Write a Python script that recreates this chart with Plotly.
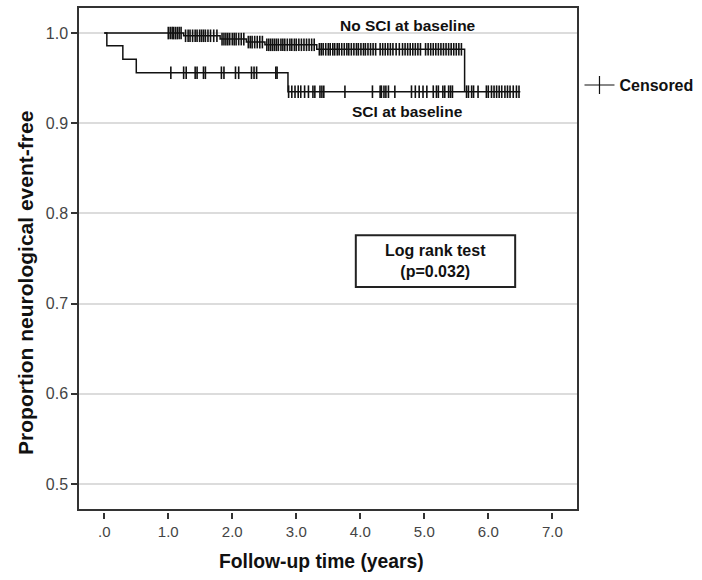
import plotly.graph_objects as go

# ---------------- data ----------------
# No SCI at baseline group
nosci_event_times = [1.24, 1.81, 2.22, 2.51, 3.32, 5.63]
nosci_event_surv = [0.997, 0.9933, 0.990, 0.987, 0.982, 0.935]
nosci_end_time = 5.63
nosci_censor_times = [
    1.00, 1.03, 1.06, 1.08, 1.11, 1.14, 1.17, 1.20,
    1.27, 1.31, 1.34, 1.38, 1.42, 1.45, 1.49, 1.52, 1.55, 1.58, 1.62, 1.66, 1.71, 1.76,
    1.84, 1.87, 1.90, 1.93, 1.96, 2.00, 2.03, 2.06, 2.10, 2.14, 2.18,
    2.25, 2.28, 2.31, 2.35, 2.39, 2.43, 2.47,
    2.54, 2.57, 2.60, 2.63, 2.66, 2.69, 2.72, 2.76, 2.79, 2.82, 2.86, 2.90, 2.93, 2.97,
    3.00, 3.04, 3.08, 3.12, 3.16, 3.20, 3.24, 3.28,
    3.36, 3.39, 3.42, 3.46, 3.50, 3.53, 3.57, 3.60, 3.64, 3.67, 3.71, 3.75, 3.79, 3.82,
    3.86, 3.90, 3.94, 3.97, 4.01, 4.05, 4.08, 4.12, 4.16, 4.20, 4.24, 4.31, 4.35, 4.39,
    4.43, 4.47, 4.51, 4.56, 4.61, 4.66, 4.70, 4.74, 4.78, 4.82, 4.86, 4.90, 4.94, 5.02,
    5.06, 5.10, 5.14, 5.18, 5.22, 5.26, 5.30, 5.34, 5.38, 5.42, 5.46, 5.50, 5.54, 5.58,
]

# SCI at baseline group
sci_event_times = [0.04, 0.29, 0.50, 2.87]
sci_event_surv = [0.986, 0.971, 0.956, 0.935]
sci_end_time = 6.50
sci_censor_times = [
    1.04, 1.24, 1.28, 1.42, 1.45, 1.55, 1.58, 1.83, 1.87, 2.05, 2.10, 2.30, 2.34, 2.38,
    2.68, 2.70, 2.88, 2.93, 2.98, 3.03, 3.07, 3.13, 3.19, 3.26, 3.29, 3.37, 3.40, 3.43,
    3.76, 4.19, 4.31, 4.33, 4.37, 4.40, 4.44, 4.54, 4.80, 4.86, 4.92, 4.98, 5.04, 5.14,
    5.19, 5.22, 5.29, 5.32, 5.38, 5.41, 5.44, 5.66, 5.69, 5.74, 5.77, 5.84, 5.97, 6.00,
    6.05, 6.09, 6.13, 6.17, 6.21, 6.26, 6.30, 6.34, 6.39, 6.44, 6.48,
]

x_tickvals = [0, 1, 2, 3, 4, 5, 6, 7]
x_ticktext = [".0", "1.0", "2.0", "3.0", "4.0", "5.0", "6.0", "7.0"]
y_tickvals = [0.5, 0.6, 0.7, 0.8, 0.9, 1.0]
y_ticktext = ["0.5", "0.6", "0.7", "0.8", "0.9", "1.0"]

group_labels = ["No SCI at baseline", "SCI at baseline"]
test_label = "Log rank test<br>(p=0.032)"


# ---------------- helpers ----------------
def step_path(event_times, event_surv, end_time):
    xs, ys = [0.0], [1.0]
    for t, s in zip(event_times, event_surv):
        xs.append(t)
        ys.append(s)
    if end_time > xs[-1]:
        xs.append(end_time)
        ys.append(ys[-1])
    return xs, ys


def surv_at(c, event_times, event_surv):
    val = 1.0
    for t, s in zip(event_times, event_surv):
        if t <= c:
            val = s
    return val


FONT = "Liberation Sans, Arial, sans-serif"
LINE_C = "#111111"

fig = go.Figure()

groups = [
    (nosci_event_times, nosci_event_surv, nosci_end_time, nosci_censor_times),
    (sci_event_times, sci_event_surv, sci_end_time, sci_censor_times),
]
for ev_t, ev_s, end_t, cens in groups:
    xs, ys = step_path(ev_t, ev_s, end_t)
    fig.add_trace(go.Scatter(
        x=xs, y=ys, mode="lines", line=dict(color=LINE_C, width=1.5, shape="hv"),
        showlegend=False, hoverinfo="skip"))
    fig.add_trace(go.Scatter(
        x=cens, y=[surv_at(c, ev_t, ev_s) for c in cens], mode="markers",
        marker=dict(symbol="line-ns", size=9, line=dict(color=LINE_C, width=1.6)),
        showlegend=False, hoverinfo="skip"))

# legend entry
fig.add_trace(go.Scatter(
    x=[None], y=[None], mode="lines+markers", name="<b>Censored</b>",
    line=dict(color=LINE_C, width=1.2),
    marker=dict(symbol="line-ns", size=13, line=dict(color=LINE_C, width=1.2))))

# dummy trace to realise the tick axis
fig.add_trace(go.Scatter(x=[None], y=[None], xaxis="x2", showlegend=False,
                         hoverinfo="skip"))

x_range = [-0.395, 7.386]
y_range = [0.4722, 1.0278]

fig.update_layout(
    width=702, height=580,
    margin=dict(l=79, r=125, t=8, b=68, autoexpand=False),
    plot_bgcolor="white", paper_bgcolor="white",
    font=dict(family=FONT, color="#222"),
    xaxis=dict(range=x_range, showline=True, linecolor="#333", linewidth=1.5,
               mirror=True, ticks="", showticklabels=False, showgrid=False,
               zeroline=False, anchor="y"),
    xaxis2=dict(range=x_range, overlaying="x", anchor="free", position=0,
                tickvals=x_tickvals, ticktext=x_ticktext, ticks="outside",
                ticklen=6, tickwidth=1.5, tickcolor="#333", showline=False,
                showgrid=False, zeroline=False,
                tickfont=dict(size=15, color="#444", family=FONT)),
    yaxis=dict(domain=[0.006, 1], range=y_range, tickvals=y_tickvals,
               ticktext=y_ticktext, ticks="outside", ticklen=6, tickwidth=1.5,
               tickcolor="#333", showline=True, linecolor="#333", linewidth=1.5,
               mirror=True, showgrid=True, gridcolor="#dcdcdc", gridwidth=1.5,
               zeroline=False, tickfont=dict(size=16, color="#444", family=FONT)),
    legend=dict(x=1.005, y=0.847, xanchor="left", yanchor="middle",
                font=dict(size=16, color="#111", family=FONT),
                bgcolor="rgba(0,0,0,0)", itemwidth=30),
    showlegend=True,
)

# group labels
fig.add_annotation(x=4.745, y=1.0081, text="<b>%s</b>" % group_labels[0],
                   showarrow=False, xanchor="center", yanchor="middle",
                   font=dict(size=15.5, color="#111", family=FONT))
fig.add_annotation(x=4.745, y=0.9129, text="<b>%s</b>" % group_labels[1],
                   showarrow=False, xanchor="center", yanchor="middle",
                   font=dict(size=15.5, color="#111", family=FONT))

# log rank box
fig.add_shape(type="rect", x0=3.93, x1=6.42, y0=0.7184, y1=0.7759,
              line=dict(color="#222", width=2), fillcolor="white")
fig.add_annotation(x=5.175, y=0.7472, text="<b>%s</b>" % test_label,
                   showarrow=False, xanchor="center", yanchor="middle",
                   font=dict(size=16, color="#111", family=FONT))

# axis titles
fig.add_annotation(xref="paper", yref="paper", x=0.486, y=-0.099,
                   xanchor="center", yanchor="middle",
                   text="<b>Follow-up time (years)</b>", showarrow=False,
                   font=dict(size=19.3, color="#111", family=FONT))
fig.add_annotation(xref="paper", yref="paper", x=-0.108, y=0.455,
                   xanchor="center", yanchor="middle",
                   text="<b>Proportion neurological event-free</b>", showarrow=False,
                   textangle=-90, font=dict(size=21, color="#111", family=FONT))

fig.write_html("out.html", config={"displayModeBar": False},
               post_script="document.body.style.margin='0px';")
